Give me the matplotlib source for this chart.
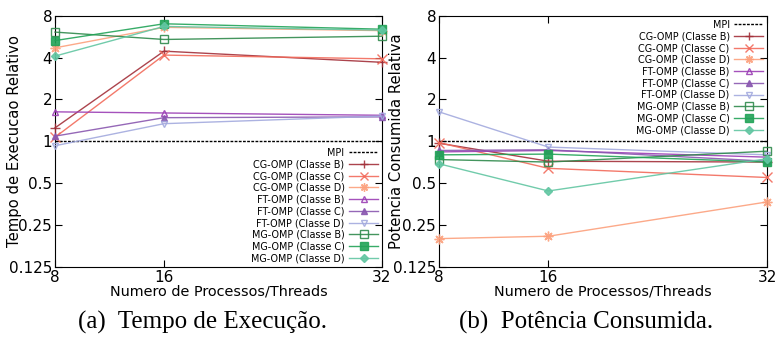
import matplotlib
matplotlib.use('Agg')
import matplotlib.pyplot as plt
from matplotlib.ticker import FixedLocator, FixedFormatter, NullLocator

# number of processes/threads
threads = [8, 16, 32]

series_names = ['CG-OMP (Classe B)', 'CG-OMP (Classe C)', 'CG-OMP (Classe D)',
                'FT-OMP (Classe B)', 'FT-OMP (Classe C)', 'FT-OMP (Classe D)',
                'MG-OMP (Classe B)', 'MG-OMP (Classe C)', 'MG-OMP (Classe D)']

# relative execution time (MPI = 1)
tempo = [
    [1.25, 4.45, 3.70],
    [1.07, 4.17, 3.92],
    [4.70, 6.60, 6.25],
    [1.63, 1.60, 1.54],
    [1.09, 1.48, 1.50],
    [0.93, 1.34, 1.52],
    [6.10, 5.40, 5.70],
    [5.30, 7.00, 6.40],
    [4.10, 6.70, 6.30],
]

# relative consumed power (MPI = 1)
potencia = [
    [0.97, 0.72, 0.71],
    [0.98, 0.64, 0.55],
    [0.20, 0.208, 0.367],
    [0.84, 0.86, 0.77],
    [0.86, 0.87, 0.72],
    [1.63, 0.91, 0.80],
    [0.74, 0.71, 0.85],
    [0.80, 0.81, 0.71],
    [0.69, 0.44, 0.75],
]

mpi_ref = 1.0

colors = ['#a3303a', '#f26b5b', '#fca07c',
          '#9b3fb5', '#8a58b0', '#a3aade',
          '#2f8a4c', '#22a358', '#62c6a2']
markers = ['+', 'x', (8, 2, 0), '^', '^', 'v', 's', 's', 'D']
filled = [True, True, True, False, True, False, False, True, True]
msizes = [7, 7, 7, 5, 5, 5, 6, 6, 4.5]

yticks = [0.125, 0.25, 0.5, 1, 2, 4, 8]
ytick_labels = ['0.125', '0.25', '0.5', '1', '2', '4', '8']

fig = plt.figure(figsize=(7.81, 3.38), dpi=100)
ax1 = fig.add_axes([0.0704, 0.210, 0.4187, 0.7435])
ax2 = fig.add_axes([0.5621, 0.210, 0.4200, 0.7435])


def draw(ax, data, ylabel, legend_loc, label_x):
    ax.plot([threads[0], threads[-1]], [mpi_ref, mpi_ref], color='black',
            linestyle=(0, (2.0, 1.0)), linewidth=1.0, label='MPI')
    for name, vals, c, m, f, ms in zip(series_names, data, colors, markers, filled, msizes):
        ax.plot(threads, vals, color=c, marker=m, markersize=ms,
                markerfacecolor=c if f else 'none', markeredgecolor=c,
                markeredgewidth=1.0, linewidth=1.0, label=name, alpha=0.9,
                clip_on=False, zorder=3)
    ax.set_yscale('log', base=2)
    ax.set_ylim(0.125, 8)
    ax.set_xlim(8, 32)
    ax.yaxis.set_major_locator(FixedLocator(yticks))
    ax.yaxis.set_major_formatter(FixedFormatter(ytick_labels))
    ax.yaxis.set_minor_locator(NullLocator())
    ax.set_xticks(threads)
    ax.set_xticklabels([str(t) for t in threads])
    ax.tick_params(direction='in', top=True, right=True, labelsize=11,
                   length=5, pad=2)
    ax.set_xlabel('Numero de Processos/Threads', fontsize=10.4, labelpad=0)
    ax.set_ylabel(ylabel, fontsize=10.6)
    ax.yaxis.set_label_coords(label_x, 0.5)
    for s in ax.spines.values():
        s.set_linewidth(0.8)
    leg = ax.legend(loc=legend_loc, frameon=False, markerfirst=False,
                    fontsize=6.9, handlelength=3.0, labelspacing=0.18,
                    borderaxespad=0.0, handletextpad=0.5, markerscale=0.85)
    for t in leg.get_texts():
        t.set_ha('right')


draw(ax1, tempo, 'Tempo de Execucao Relativo', 'lower right', -0.10)
draw(ax2, potencia, 'Potencia Consumida Relativa', 'upper right', -0.107)

fig.text(0.259, 0.045, '(a)  Tempo de Execução.', ha='center', va='center',
         family='Liberation Serif', fontsize=18)
fig.text(0.751, 0.045, '(b)  Potência Consumida.', ha='center', va='center',
         family='Liberation Serif', fontsize=18)

fig.savefig('out.png', dpi=100)
